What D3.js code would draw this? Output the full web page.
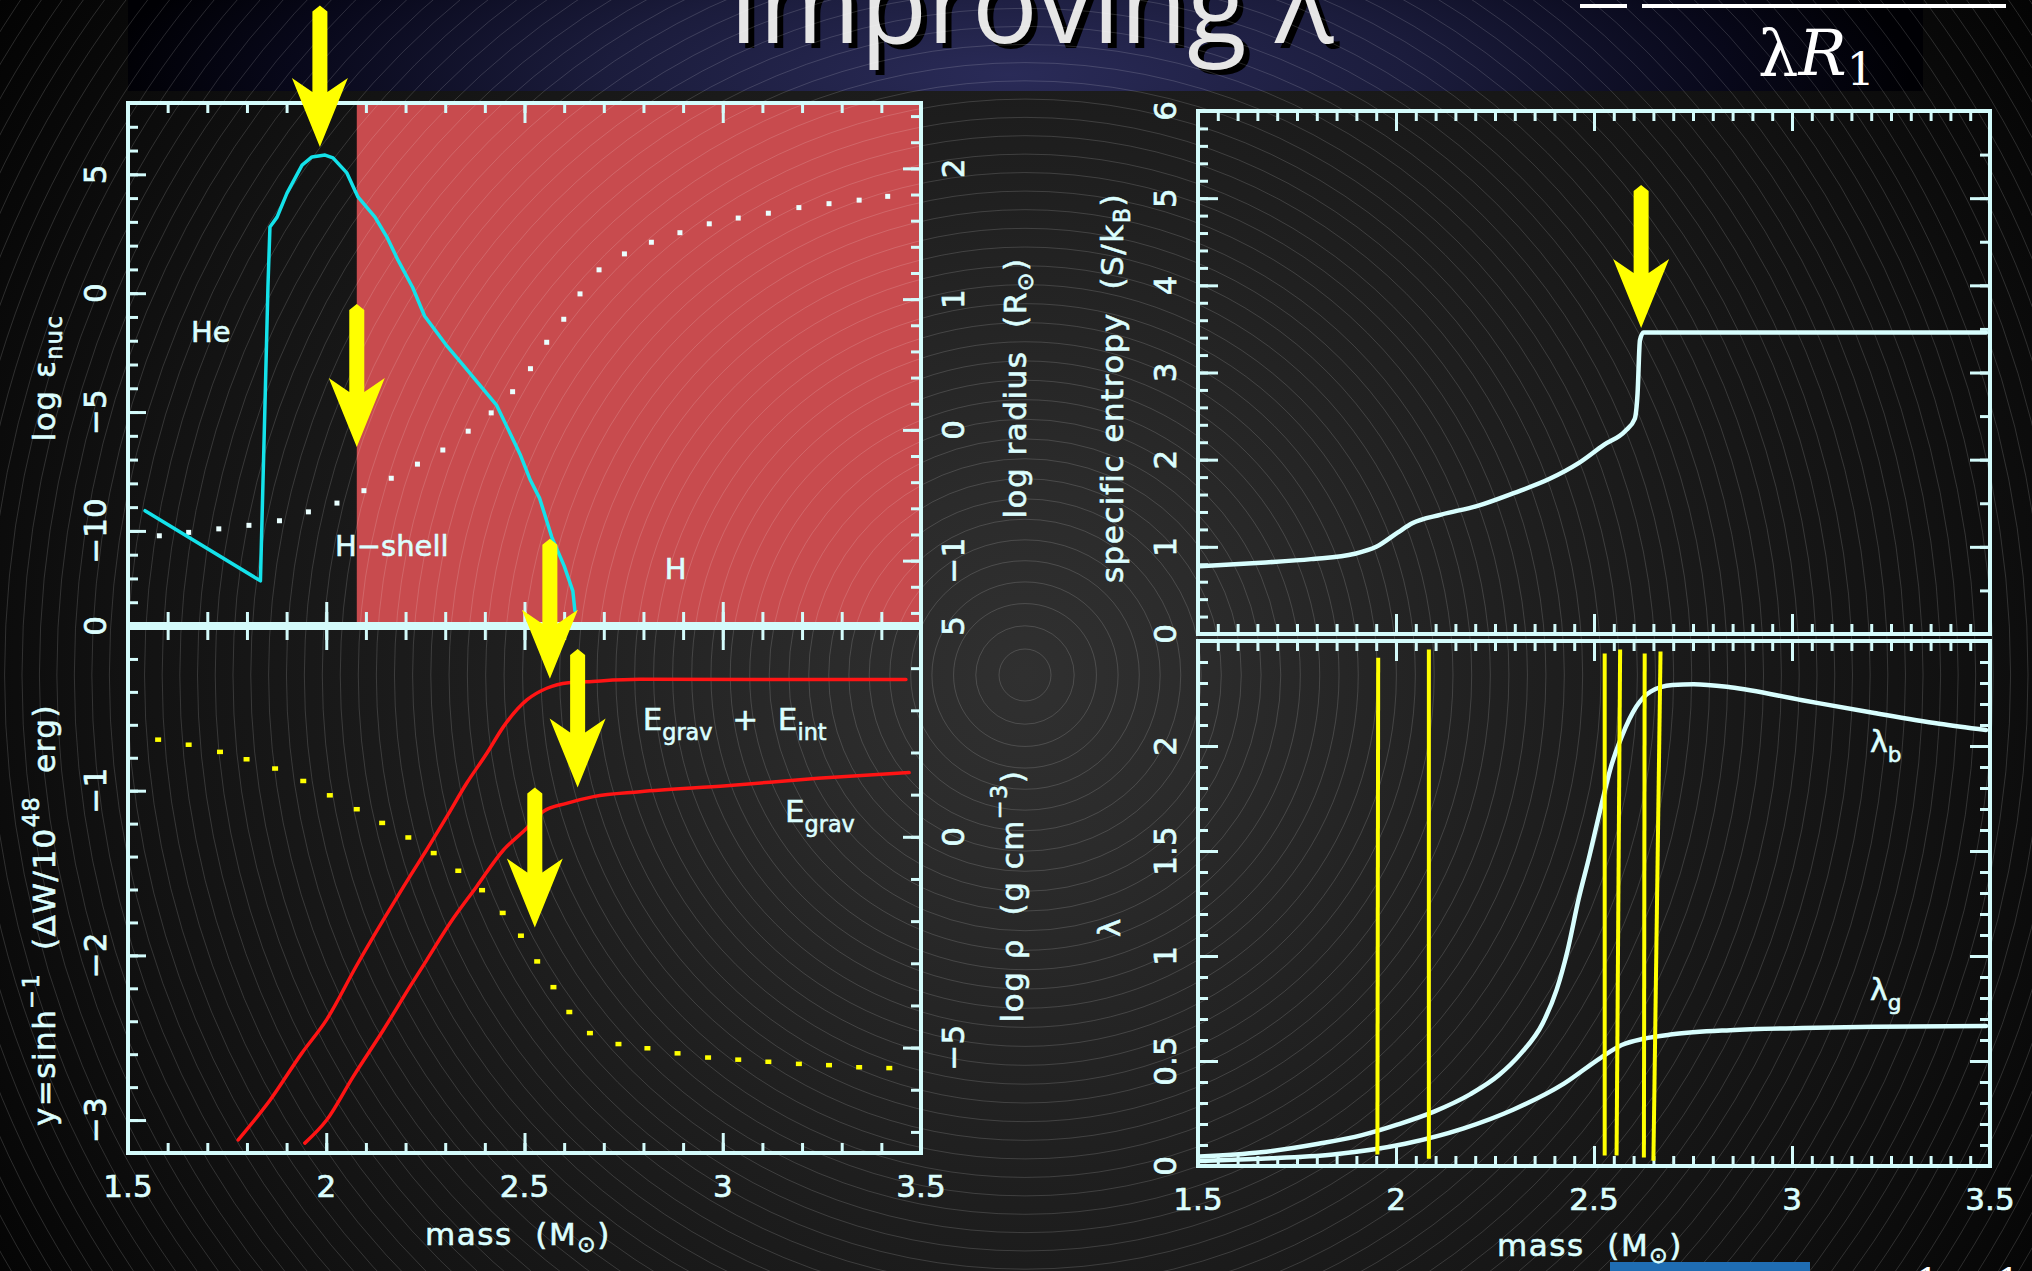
<!DOCTYPE html>
<html>
<head>
<meta charset="utf-8">
<script src="https://cdn.jsdelivr.net/npm/d3@7"></script>
<style>
  html, body { margin: 0; padding: 0; background: #000; overflow: hidden; }
  svg { display: block; }
</style>
</head>
<body>
<svg id="chart" width="2032" height="1271"></svg>
<script>
// ---------------- data ----------------
const massTicks = [1.5, 2, 2.5, 3, 3.5];
const massTickLabels = ["1.5", "2", "2.5", "3", "3.5"];

const epsTicks = [5, 0, -5, -10];
const epsTickLabels = ["5", "0", "\u22125", "\u221210"];
const radTicks = [2, 1, 0, -1];
const radTickLabels = ["2", "1", "0", "\u22121"];
const dwTicks = [0, -1, -2, -3];
const dwTickLabels = ["0", "\u22121", "\u22122", "\u22123"];
const rhoTicks = [5, 0, -5];
const rhoTickLabels = ["5", "0", "\u22125"];
const entropyTicks = [0, 1, 2, 3, 4, 5, 6];
const entropyTickLabels = ["0", "1", "2", "3", "4", "5", "6"];
const lambdaTicks = [0, 0.5, 1, 1.5, 2];
const lambdaTickLabels = ["0", "0.5", "1", "1.5", "2"];

// mass range of the hydrogen-rich envelope (shaded)
const hEnvelope = [2.077, 3.5];

// log nuclear energy generation rate vs mass
const epsNuc = [[1.543,-9.15],[1.834,-12.1],[1.845,-5.0],[1.853,0.3],[1.858,2.78],[1.876,3.2],[1.901,4.21],
  [1.939,5.39],[1.964,5.73],[1.997,5.81],[2.017,5.69],[2.052,5.06],[2.08,4.05],[2.123,3.2],[2.153,2.36],
  [2.181,1.39],[2.218,0.24],[2.248,-0.96],[2.302,-2.17],[2.34,-2.92],[2.40,-4.12],[2.43,-4.72],[2.46,-5.77],
  [2.49,-6.82],[2.515,-7.87],[2.538,-8.62],[2.569,-10.27],[2.60,-11.47],[2.622,-12.53],[2.627,-13.35]];

// log radius vs mass (dotted)
const logRadius = [[1.579,-0.81],[1.653,-0.784],[1.729,-0.757],[1.805,-0.73],[1.882,-0.695],[1.955,-0.627],
  [2.027,-0.56],[2.095,-0.465],[2.164,-0.37],[2.23,-0.262],[2.294,-0.154],[2.358,-0.01],[2.416,0.13],
  [2.47,0.292],[2.515,0.468],[2.556,0.67],[2.599,0.846],[2.64,1.04],[2.688,1.224],[2.752,1.346],[2.82,1.435],
  [2.892,1.508],[2.966,1.576],[3.039,1.62],[3.115,1.657],[3.192,1.70],[3.268,1.73],[3.344,1.757],[3.416,1.786]];

// log density vs mass (dotted)
const logRho = [[1.576,2.31],[1.653,2.19],[1.732,2.02],[1.799,1.845],[1.871,1.625],[1.942,1.33],[2.009,0.99],
  [2.077,0.66],[2.141,0.335],[2.207,-0.01],[2.271,-0.38],[2.333,-0.80],[2.393,-1.26],[2.445,-1.80],[2.491,-2.34],
  [2.532,-2.95],[2.573,-3.56],[2.613,-4.15],[2.665,-4.65],[2.737,-4.91],[2.81,-5.01],[2.886,-5.13],[2.963,-5.23],
  [3.039,-5.28],[3.115,-5.33],[3.192,-5.38],[3.268,-5.41],[3.344,-5.46],[3.42,-5.48]];

// binding energy, y = asinh(dW / 1e48 erg)
const eGravInt = [[1.778,-3.12],[1.858,-2.88],[1.938,-2.595],[2.001,-2.39],[2.077,-2.06],[2.144,-1.785],
  [2.211,-1.52],[2.253,-1.36],[2.304,-1.158],[2.354,-0.955],[2.405,-0.773],[2.447,-0.611],[2.506,-0.449],
  [2.556,-0.378],[2.611,-0.344],[2.657,-0.338],[2.791,-0.324],[3.462,-0.325]];
const eGrav = [[1.946,-3.14],[2.001,-3.0],[2.068,-2.736],[2.144,-2.453],[2.211,-2.19],[2.253,-2.03],[2.312,-1.805],
  [2.379,-1.583],[2.447,-1.36],[2.501,-1.239],[2.547,-1.127],[2.606,-1.077],[2.674,-1.036],[2.791,-1.006],
  [3.01,-0.97],[3.24,-0.925],[3.47,-0.89]];

// specific entropy vs mass
const entropy = [[1.504,0.777],[1.659,0.818],[1.786,0.859],[1.896,0.92],[1.95,1.0],[2.005,1.166],[2.041,1.27],
  [2.114,1.37],[2.206,1.47],[2.297,1.616],[2.388,1.78],[2.461,1.96],[2.525,2.17],[2.579,2.33],[2.603,2.47],
  [2.61,2.76],[2.616,3.37],[2.625,3.46],[3.49,3.46]];

// envelope binding parameters
const lambdaB = [[1.504,0.045],[1.659,0.065],[1.804,0.106],[1.914,0.147],[2.005,0.198],[2.096,0.259],[2.187,0.341],
  [2.26,0.433],[2.315,0.535],[2.37,0.678],[2.406,0.841],[2.433,1.024],[2.461,1.27],[2.488,1.473],[2.516,1.698],
  [2.543,1.902],[2.57,2.045],[2.607,2.188],[2.643,2.259],[2.698,2.29],[2.752,2.294],[2.844,2.28],[3.026,2.218],
  [3.208,2.157],[3.372,2.106],[3.49,2.076]];
const lambdaG = [[1.504,0.024],[1.659,0.035],[1.841,0.055],[2.023,0.106],[2.169,0.178],[2.297,0.269],[2.424,0.392],
  [2.516,0.514],[2.57,0.576],[2.625,0.606],[2.698,0.627],[2.844,0.647],[3.026,0.657],[3.208,0.663],[3.49,0.667]];

// candidate core boundaries: [mass at top, mass at bottom, lambda top, lambda bottom]
const coreBoundaries = [[1.955,1.953,2.42,0.055],[2.083,2.083,2.46,0.035],[2.527,2.527,2.44,0.05],
  [2.566,2.557,2.46,0.05],[2.628,2.626,2.44,0.04],[2.668,2.650,2.45,0.025]];

// arrows: [mass, tail value, tip value]
const epsArrows = [[1.984,12.1,6.15],[2.077,-0.46,-6.47]];
const dwArrows = [[2.564,0.53,-0.32],[2.634,-0.14,-0.98],[2.526,-0.98,-1.83]];
const entropyArrows = [[2.619,5.15,3.51]];

// ---------------- setup ----------------
const FRAME = "#d4fbfb";
const INK = "#dcfefe";
const FONT = "'DejaVu Sans', sans-serif";
const svg = d3.select("#chart");
const defs = svg.append("defs");

const bgGrad = defs.append("radialGradient").attr("id", "bg")
  .attr("gradientUnits", "userSpaceOnUse").attr("cx", 1025).attr("cy", 675).attr("r", 1250);
[[0,"#303030"],[0.15,"#2b2b2b"],[0.4,"#1f1f1f"],[0.72,"#121212"],[0.86,"#0a0a0a"],[1,"#020202"]]
  .forEach(([o, c]) => bgGrad.append("stop").attr("offset", o).attr("stop-color", c));

const bandGrad = defs.append("radialGradient").attr("id", "band")
  .attr("gradientUnits", "userSpaceOnUse").attr("cx", 1010).attr("cy", 75).attr("r", 900)
  .attr("gradientTransform", "translate(1010 75) scale(1 0.25) translate(-1010 -75)");
[[0,"#2a2b58"],[0.45,"#1b1c3c"],[0.8,"#08081a"],[1,"#000004"]]
  .forEach(([o, c]) => bandGrad.append("stop").attr("offset", o).attr("stop-color", c));

// scales
const xL = d3.scaleLinear([1.5, 3.5], [128, 921]);
const yEps = d3.scaleLinear([-14, 8], [626, 103]);
const yRad = d3.scaleLinear([-1.5, 2.5], [626, 103]);
const yDW = d3.scaleLinear([-3.2, 0], [1153, 626]);
const yRho = d3.scaleLinear([-7.5, 5], [1153, 626]);
const xR = d3.scaleLinear([1.5, 3.5], [1198, 1990]);
const yS = d3.scaleLinear([0, 6], [634, 111]);
const yLam = d3.scaleLinear([0, 2.5], [1166, 641]);

// ---------------- background ----------------
svg.append("rect").attr("width", 2032).attr("height", 1271).attr("fill", "url(#bg)");
svg.append("rect").attr("x", 128).attr("y", 0).attr("width", 1795).attr("height", 91).attr("fill", "url(#band)");

// title
const title = svg.append("g").attr("font-family", "'Open Sans', sans-serif").attr("font-size", 112)
  .attr("text-anchor", "middle");
title.append("text").attr("x", 1037).attr("y", 48).attr("fill", "#000")
  .attr("textLength", 605).attr("lengthAdjust", "spacingAndGlyphs").text("Improving \u03bb");
title.append("text").attr("x", 1031).attr("y", 43).attr("fill", "#e6e6e6")
  .attr("textLength", 605).attr("lengthAdjust", "spacingAndGlyphs").text("Improving \u03bb");

// formula fragment at upper right
svg.append("rect").attr("x", 1580).attr("y", 4).attr("width", 47).attr("height", 4).attr("fill", "#fff");
svg.append("rect").attr("x", 1642).attr("y", 4).attr("width", 364).attr("height", 4).attr("fill", "#fff");
const frac = svg.append("text").attr("x", 1758).attr("y", 75).attr("fill", "#fff")
  .attr("font-family", "'DejaVu Serif', serif").attr("font-size", 64);
frac.append("tspan").text("\u03bb");
frac.append("tspan").attr("font-style", "italic").text("R");
frac.append("tspan").attr("font-size", 44).attr("dy", 10).text("1");

// shaded hydrogen envelope
svg.append("rect").attr("x", xL(hEnvelope[0])).attr("y", yEps(8))
  .attr("width", xL(hEnvelope[1]) - xL(hEnvelope[0])).attr("height", yEps(-14) - yEps(8))
  .attr("fill", "#c84b4e");

// concentric background rings
const rings = svg.append("g").attr("fill", "none").attr("stroke", "#fff").attr("stroke-opacity", 0.15)
  .attr("stroke-width", 1);
d3.range(1, 72).forEach(n => {
  rings.append("circle").attr("cx", 1025).attr("cy", 675).attr("r", 26 * Math.pow(n, 0.92));
});

// bottom strip
svg.append("rect").attr("x", 1610).attr("y", 1262).attr("width", 200).attr("height", 9).attr("fill", "#1f6db3");
svg.append("g").attr("font-family", "'DejaVu Serif', serif").attr("font-size", 40).attr("fill", "#fff")
  .selectAll("text").data([1915, 1996]).join("text").attr("x", d => d).attr("y", 1296).text("1");

// ---------------- helpers ----------------
function rich(textSel, parts, size) {
  let off = 0;
  parts.forEach(([t, kind]) => {
    const target = kind === "sub" ? size * 0.32 : kind === "sup" ? -size * 0.42 : 0;
    const ts = textSel.append("tspan").text(t);
    if (target - off !== 0) ts.attr("dy", target - off);
    if (kind) ts.attr("font-size", size * 0.72);
    off = target;
  });
}

function ticks(orient, scale, values, size, tx, ty) {
  const gen = { top: d3.axisTop, bottom: d3.axisBottom, left: d3.axisLeft, right: d3.axisRight }[orient];
  const ax = gen(scale).tickValues(values).tickSize(size).tickFormat("");
  const g = svg.append("g").attr("transform", `translate(${tx},${ty})`).call(ax);
  g.select(".domain").remove();
  g.selectAll(".tick line").attr("stroke", FRAME).attr("stroke-width", 3);
}

function rng(a, b, step) {
  return d3.range(Math.round((b - a) / step) + 1).map(i => +(a + i * step).toFixed(4));
}

function yLabels(scale, values, labels, cx) {
  svg.append("g").attr("font-family", FONT).attr("font-size", 31).attr("fill", INK)
    .attr("stroke", INK).attr("stroke-width", 0.7)
    .attr("text-anchor", "middle").attr("dominant-baseline", "central")
    .selectAll("text").data(values).join("text")
    .attr("transform", d => `translate(${cx},${scale(d)}) rotate(-90)`)
    .text((d, i) => labels[i]);
}

function xLabels(scale, y) {
  svg.append("g").attr("font-family", FONT).attr("font-size", 31).attr("fill", INK)
    .attr("stroke", INK).attr("stroke-width", 0.7)
    .attr("text-anchor", "middle")
    .selectAll("text").data(massTicks).join("text")
    .attr("x", d => scale(d)).attr("y", y)
    .text((d, i) => massTickLabels[i]);
}

function axisTitle(x, y, parts, rotate) {
  const t = svg.append("text").attr("font-family", FONT).attr("font-size", 31).attr("fill", INK)
    .attr("stroke", INK).attr("stroke-width", 0.6)
    .attr("letter-spacing", 1.5).attr("text-anchor", "middle").attr("dominant-baseline", "central")
    .style("white-space", "pre")
    .attr("transform", `translate(${x},${y})` + (rotate ? " rotate(-90)" : ""));
  rich(t, parts, 31);
}

function dataLabel(x, y, parts, size) {
  const t = svg.append("text").attr("x", x).attr("y", y).attr("font-family", FONT)
    .attr("font-size", size).attr("fill", INK).attr("stroke", INK).attr("stroke-width", 0.6)
    .style("white-space", "pre");
  rich(t, parts, size);
}

function drawLine(data, xs, ys, color, width, curve) {
  svg.append("path").datum(data)
    .attr("d", d3.line().curve(curve || d3.curveLinear).x(d => xs(d[0])).y(d => ys(d[1])))
    .attr("fill", "none").attr("stroke", color).attr("stroke-width", width)
    .attr("stroke-linejoin", "round").attr("stroke-linecap", "round");
}

function drawArrow(xs, ys, a) {
  const x = xs(a[0]), yT = ys(a[1]), yP = ys(a[2]);
  const sw = 7.5, hw = 28, hl = 69, notch = 14;
  const pts = [[x - sw, yT + 6], [x, yT], [x + sw, yT + 6], [x + sw, yP - hl + notch], [x + hw, yP - hl],
    [x, yP], [x - hw, yP - hl], [x - sw, yP - hl + notch]];
  svg.append("polygon").attr("points", pts.map(p => p.join(",")).join(" ")).attr("fill", "#ffff00");
}

// ---------------- left panel: curves ----------------
svg.append("g").attr("fill", "#eaffff").selectAll("rect").data(logRadius).join("rect")
  .attr("x", d => xL(d[0]) - 2.5).attr("y", d => yRad(d[1]) - 2.5).attr("width", 5).attr("height", 5);
svg.append("g").attr("fill", "#ffff00").selectAll("rect").data(logRho).join("rect")
  .attr("x", d => xL(d[0]) - 3).attr("y", d => yRho(d[1]) - 2).attr("width", 6).attr("height", 4.5);

drawLine(epsNuc, xL, yEps, "#14e2ea", 3.5);
drawLine(eGravInt, xL, yDW, "#ff1414", 3.5, d3.curveMonotoneX);
drawLine(eGrav, xL, yDW, "#ff1414", 3.5, d3.curveMonotoneX);

// ---------------- right panels: curves ----------------
drawLine(entropy, xR, yS, "#d8fefe", 4.5, d3.curveMonotoneX);
drawLine(lambdaB, xR, yLam, "#d8fefe", 4.5, d3.curveMonotoneX);
drawLine(lambdaG, xR, yLam, "#d8fefe", 4.5, d3.curveMonotoneX);

// ---------------- frames and ticks ----------------
const frames = svg.append("g").attr("fill", "none").attr("stroke", FRAME);
frames.append("rect").attr("x", 128).attr("y", 103).attr("width", 793).attr("height", 1050).attr("stroke-width", 4);
frames.append("line").attr("x1", 128).attr("x2", 921).attr("y1", 626).attr("y2", 626).attr("stroke-width", 8);
frames.append("rect").attr("x", 1198).attr("y", 111).attr("width", 792).attr("height", 523).attr("stroke-width", 4);
frames.append("rect").attr("x", 1198).attr("y", 641).attr("width", 792).attr("height", 525).attr("stroke-width", 4);

// left panel mass ticks
const minorL = rng(1.5, 3.5, 0.1);
ticks("top", xL, minorL, -10, 0, 103);
ticks("top", xL, massTicks, -20, 0, 103);
ticks("top", xL, minorL, 10, 0, 622);
ticks("top", xL, massTicks, 20, 0, 622);
ticks("bottom", xL, minorL, 10, 0, 630);
ticks("bottom", xL, massTicks, 20, 0, 630);
ticks("bottom", xL, minorL, -10, 0, 1153);
ticks("bottom", xL, massTicks, -20, 0, 1153);
// left panel value ticks
ticks("left", yEps, rng(-14, 8, 1), -10, 128, 0);
ticks("left", yEps, epsTicks, -18, 128, 0);
ticks("right", yRad, rng(-1.4, 2.4, 0.2), -10, 921, 0);
ticks("right", yRad, radTicks, -18, 921, 0);
ticks("left", yDW, rng(-3.2, -0.2, 0.2), -10, 128, 0);
ticks("left", yDW, dwTicks.slice(1), -18, 128, 0);
ticks("right", yRho, rng(-7, 4, 1), -10, 921, 0);
ticks("right", yRho, rhoTicks.slice(1), -18, 921, 0);

// right panels mass ticks
const minorR = rng(1.5, 3.5, 0.05);
[[111, -1], [634, 1], [641, -1], [1166, 1]].forEach(([y, dir]) => {
  ticks(dir < 0 ? "top" : "bottom", xR, minorR, -10, 0, y);
  ticks(dir < 0 ? "top" : "bottom", xR, massTicks, -20, 0, y);
});
ticks("left", yS, rng(0, 6, 0.2), -10, 1198, 0);
ticks("left", yS, entropyTicks, -20, 1198, 0);
ticks("right", yS, rng(0, 6, 0.5), -10, 1990, 0);
ticks("right", yS, entropyTicks, -20, 1990, 0);
ticks("left", yLam, rng(0, 2.5, 0.1), -10, 1198, 0);
ticks("left", yLam, lambdaTicks, -20, 1198, 0);
ticks("right", yLam, rng(0, 2.5, 0.1), -10, 1990, 0);
ticks("right", yLam, lambdaTicks, -20, 1990, 0);

// ---------------- tick labels ----------------
yLabels(yEps, epsTicks, epsTickLabels, 95);
yLabels(yDW, dwTicks, dwTickLabels, 95);
yLabels(yRad, radTicks, radTickLabels, 953);
yLabels(yRho, rhoTicks, rhoTickLabels, 953);
yLabels(yS, entropyTicks, entropyTickLabels, 1165);
yLabels(yLam, lambdaTicks, lambdaTickLabels, 1165);
xLabels(xL, 1197);
xLabels(xR, 1210);

// ---------------- axis titles ----------------
axisTitle(44, 378, [["log \u03b5"], ["nuc", "sub"]], true);
axisTitle(44, 915, [["y=sinh"], ["\u22121", "sup"], ["  (\u0394W/10"], ["48", "sup"], ["  erg)"]], true);
axisTitle(1015, 388, [["log radius  (R"], ["\u2299", "sub"], [")"]], true);
axisTitle(1012, 896, [["log \u03c1  (g cm"], ["\u22123", "sup"], [")"]], true);
axisTitle(1112, 388, [["specific entropy  (S/k"], ["B", "sub"], [")"]], true);
axisTitle(1109, 927, [["\u03bb"]], true);
axisTitle(518, 1234, [["mass  (M"], ["\u2299", "sub"], [")"]], false);
axisTitle(1590, 1245, [["mass  (M"], ["\u2299", "sub"], [")"]], false);

// ---------------- curve annotations ----------------
dataLabel(xL(1.659), yEps(-2.05), [["He"]], 29);
dataLabel(xL(2.022), yEps(-11.06), [["H\u2212shell"]], 29);
dataLabel(xL(2.854), yEps(-12.03), [["H"]], 29);
dataLabel(xL(2.798), yDW(-0.63), [["E"], ["grav", "sub"], ["  +  E"], ["int", "sub"]], 31);
dataLabel(xL(3.157), yDW(-1.19), [["E"], ["grav", "sub"]], 31);
dataLabel(xR(3.197), yLam(1.971), [["\u03bb"], ["b", "sub"]], 30);
dataLabel(xR(3.197), yLam(0.79), [["\u03bb"], ["g", "sub"]], 30);

// ---------------- core boundary markers ----------------
svg.append("g").attr("stroke", "#ffff00").attr("stroke-width", 4)
  .selectAll("line").data(coreBoundaries).join("line")
  .attr("x1", d => xR(d[0])).attr("x2", d => xR(d[1]))
  .attr("y1", d => yLam(d[2])).attr("y2", d => yLam(d[3]));

// ---------------- arrows ----------------
epsArrows.forEach(a => drawArrow(xL, yEps, a));
dwArrows.forEach(a => drawArrow(xL, yDW, a));
entropyArrows.forEach(a => drawArrow(xR, yS, a));
</script>
</body>
</html>
